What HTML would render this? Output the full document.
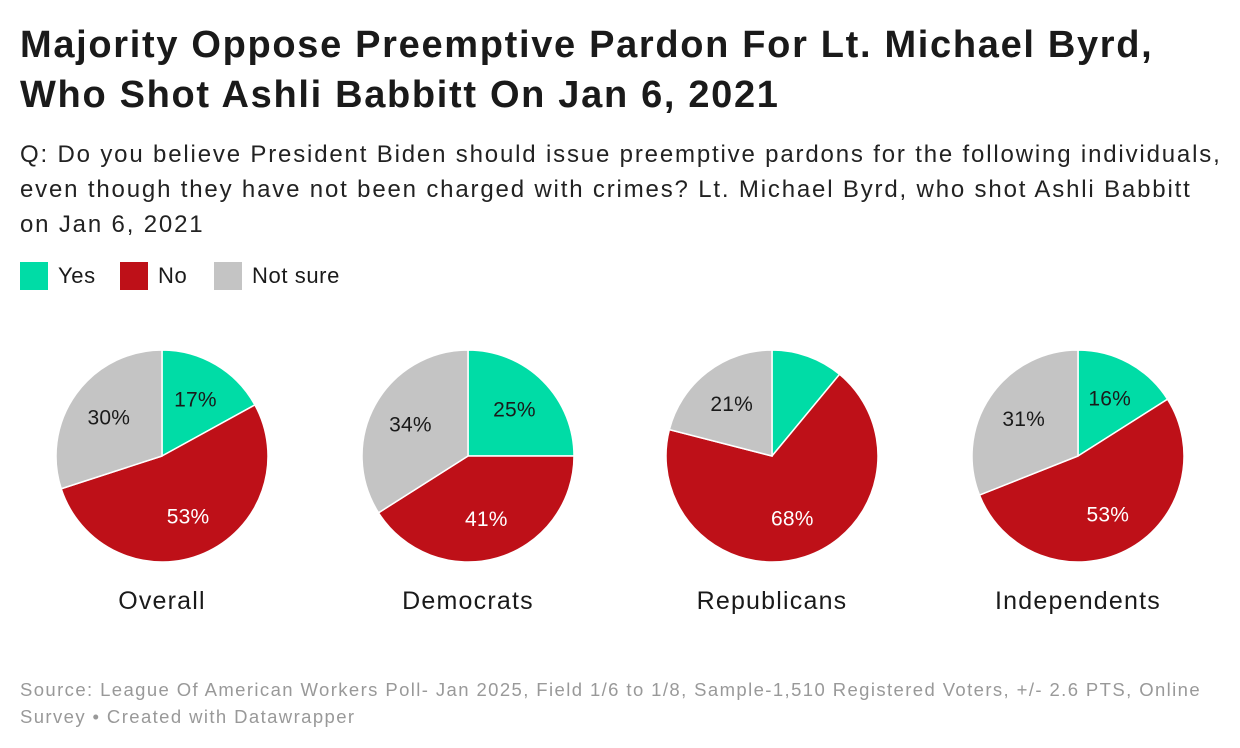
<!DOCTYPE html>
<html><head><meta charset="utf-8"><style>
body{margin:0;width:1240px;height:748px;background:#fff;font-family:"Liberation Sans",sans-serif;color:#1a1a1a;position:relative;overflow:hidden}
.t{position:absolute;left:20px;top:20px;font-size:38px;font-weight:bold;line-height:50px;letter-spacing:1.68px;margin:0;white-space:nowrap}
.s{position:absolute;left:20px;top:137px;font-size:24px;line-height:35px;color:#222;letter-spacing:1.83px;white-space:nowrap}
.lg{position:absolute;top:262px;display:flex;align-items:center;font-size:22px;letter-spacing:0.6px}
.lg span.b{width:28px;height:28px;display:inline-block;margin-right:10px}
.f{position:absolute;left:20px;top:676px;font-size:18.5px;line-height:27px;color:#999;letter-spacing:1.4px;white-space:nowrap}
</style></head><body>
<h1 class="t">Majority Oppose Preemptive Pardon For Lt. Michael Byrd,<br>Who Shot Ashli Babbitt On Jan 6, 2021</h1>
<div class="s">Q: Do you believe President Biden should issue preemptive pardons for the following individuals,<br>even though they have not been charged with crimes? Lt. Michael Byrd, who shot Ashli Babbitt<br>on Jan 6, 2021</div>
<div class="lg" style="left:20px"><span class="b" style="background:#00dca6"></span>Yes</div>
<div class="lg" style="left:120px"><span class="b" style="background:#be1018"></span>No</div>
<div class="lg" style="left:214px"><span class="b" style="background:#c4c4c4"></span>Not sure</div>
<svg id="c" width="1240" height="748" style="position:absolute;left:0;top:0"></svg>
<div class="f">Source: League Of American Workers Poll- Jan 2025, Field 1/6 to 1/8, Sample-1,510 Registered Voters, +/- 2.6 PTS, Online<br>Survey • Created with Datawrapper</div>
<script>
const groups=["Overall","Democrats","Republicans","Independents"];
const yesVals=[17,25,11,16];
const noVals=[53,41,68,53];
const notSureVals=[30,34,21,31];
const colors=["#00dca6","#be1018","#c4c4c4"];
const centersX=[162,468,772,1078];
const cy=456,R=106;
const svg=document.getElementById('c');
const NS="http://www.w3.org/2000/svg";
function pt(a,r,cx){return [cx+r*Math.sin(a),cy-r*Math.cos(a)];}
groups.forEach((g,i)=>{
  const vals=[yesVals[i],noVals[i],notSureVals[i]];
  const tot=vals.reduce((a,b)=>a+b,0);
  let a0=0;const cx=centersX[i];
  vals.forEach((v,k)=>{
    const a1=a0+v/tot*2*Math.PI;
    const p0=pt(a0,R,cx),p1=pt(a1,R,cx);
    const path=document.createElementNS(NS,'path');
    path.setAttribute('d',`M${cx},${cy}L${p0[0]},${p0[1]}A${R},${R} 0 ${a1-a0>Math.PI?1:0} 1 ${p1[0]},${p1[1]}Z`);
    path.setAttribute('fill',colors[k]);path.setAttribute('stroke','#fff');path.setAttribute('stroke-width','1.5');
    
    
    svg.appendChild(path);
    if(v>=15){
      const m=pt((a0+a1)/2,R*0.62,cx);
      const t=document.createElementNS(NS,'text');
      t.setAttribute('x',m[0]);t.setAttribute('y',m[1]+7);t.setAttribute('text-anchor','middle');
      t.setAttribute('font-size','21');t.setAttribute('letter-spacing','0.2');t.setAttribute('fill',k==1?'#fff':'#1a1a1a');
      t.textContent=v+'%';
      
      
      svg.appendChild(t);
    }
    a0=a1;
  });
  const l=document.createElementNS(NS,'text');
  l.setAttribute('x',cx);l.setAttribute('y',609);l.setAttribute('text-anchor','middle');l.setAttribute('font-size','25');l.setAttribute('letter-spacing','1.2');l.setAttribute('fill','#1a1a1a');
  l.textContent=g;
  
  
  svg.appendChild(l);
});
</script>
</body></html>
